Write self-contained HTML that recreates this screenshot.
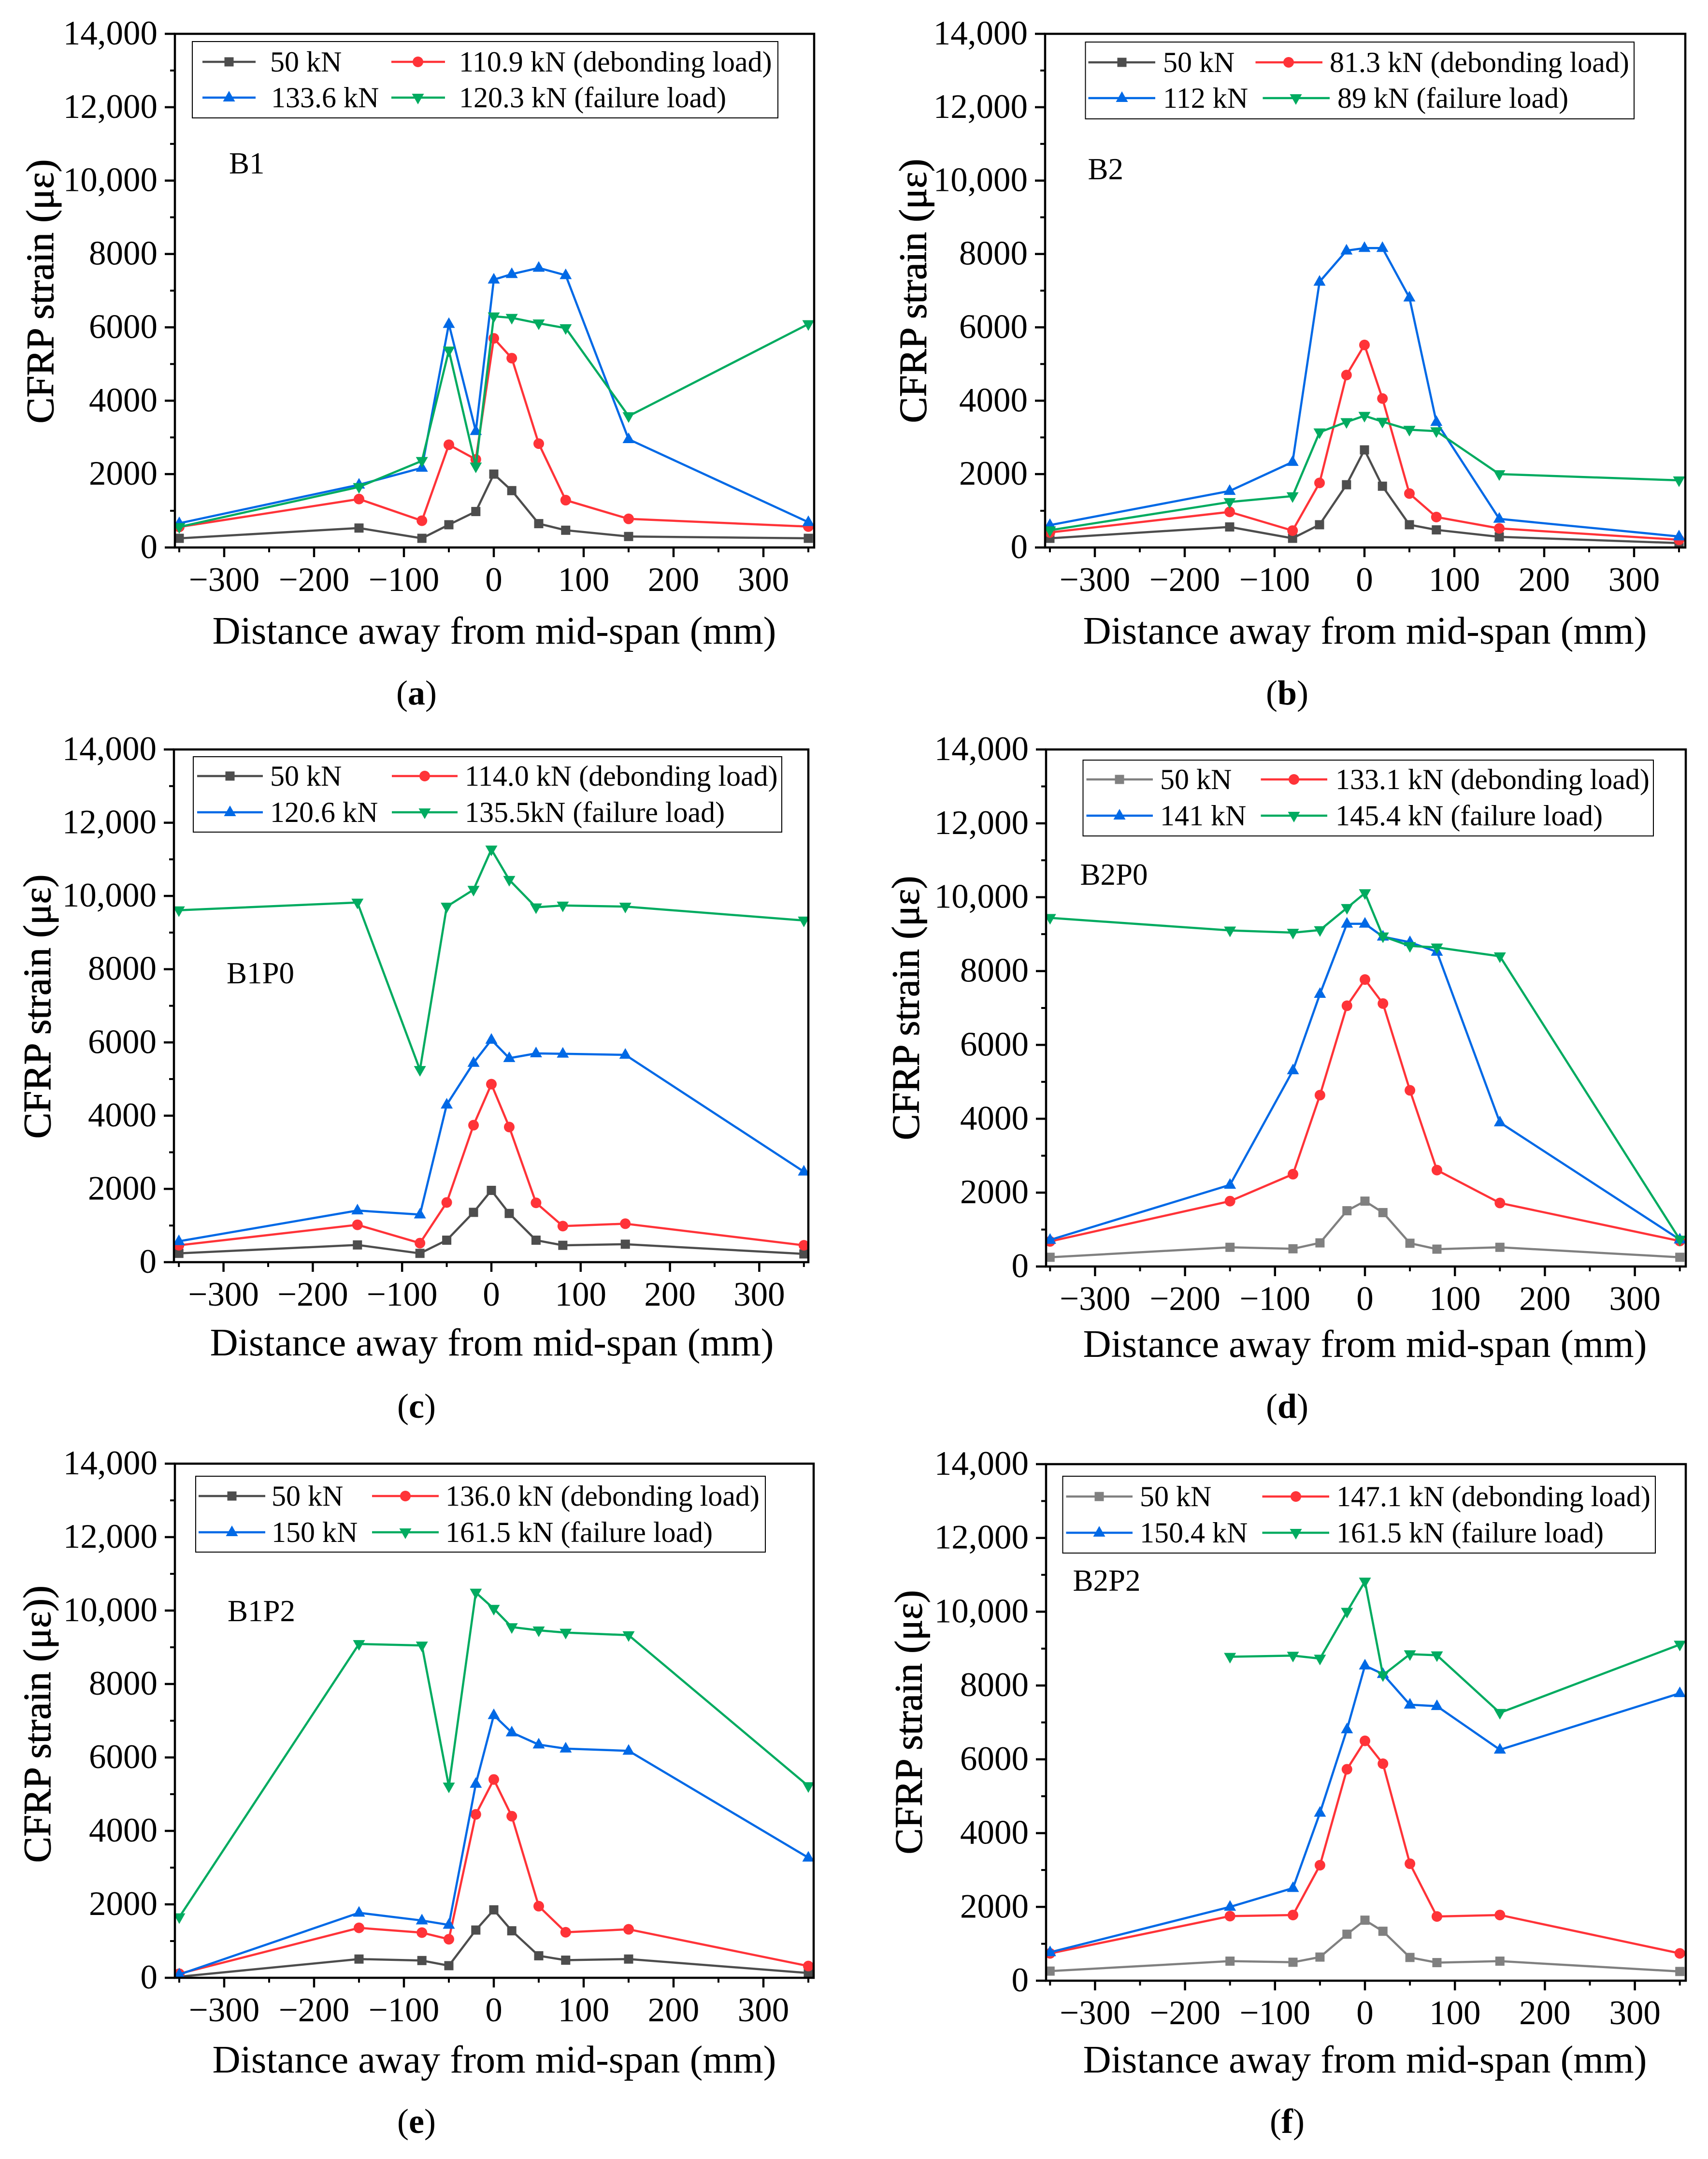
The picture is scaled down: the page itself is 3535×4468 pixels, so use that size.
<!DOCTYPE html>
<html lang="en">
<head>
<meta charset="utf-8">
<title>CFRP strain versus distance from mid-span</title>
<style>
html,body{margin:0;padding:0;background:#fff;}
svg{display:block;font-family:"Liberation Serif","DejaVu Serif",serif;fill:#000;}
.leg{font-size:60px;}
.ttl{font-size:80.5px;}
.ytl{font-size:81px;text-anchor:middle;stroke:#000;stroke-width:1;}
.ann{font-size:63px;}
.sub{font-size:72px;text-anchor:middle;}
.box{fill:#fff;stroke:#000;stroke-width:2;}
.ln{stroke-width:4.5;fill:none;}
.g50{stroke:#4d4d4d;fill:#4d4d4d;}
.l50{stroke:#808080;fill:#808080;}
.red{stroke:#ff3338;fill:#ff3338;}
.blu{stroke:#0069e6;fill:#0069e6;}
.grn{stroke:#00ab60;fill:#00ab60;}
.mk{stroke:none;}
</style>
</head>
<body>
<svg id="figure" xmlns="http://www.w3.org/2000/svg" width="3535" height="4468" viewBox="0 0 3535 4468">
<rect x="0" y="0" width="3535" height="4468" fill="#fff"/>
<defs>
<rect id="mk-square" class="mk" x="-9.5" y="-9.5" width="19" height="19"/>
<circle id="mk-circle" class="mk" r="11"/>
<polygon id="mk-up" class="mk" points="0,-14 12.5,8 -12.5,8"/>
<polygon id="mk-down" class="mk" points="-12.5,-8 12.5,-8 0,14"/>
</defs>

<!-- Panel a -->
<g id="panel-a">
<g class="plot"></g>
<rect class="box" x="398" y="86" width="1212" height="158"/>
<g><line class="ln g50" x1="419" x2="529" y1="128" y2="128"/><use href="#mk-square" class="g50" x="474" y="128"/><text class="leg" x="559" y="148">50 kN</text></g>
<g><line class="ln blu" x1="419" x2="529" y1="202" y2="202"/><use href="#mk-up" class="blu" x="474" y="202"/><text class="leg" x="561" y="222">133.6 kN</text></g>
<g><line class="ln red" x1="810" x2="921" y1="128" y2="128"/><use href="#mk-circle" class="red" x="865" y="128"/><text class="leg" x="950" y="148">110.9 kN (debonding load)</text></g>
<g><line class="ln grn" x1="810" x2="921" y1="202" y2="202"/><use href="#mk-down" class="grn" x="865" y="202"/><text class="leg" x="950" y="222">120.3 kN (failure load)</text></g>
<text class="ann" x="474" y="359">B1</text>
<text class="ttl" x="1023" y="1332" text-anchor="middle">Distance away from mid-span (mm)</text>
<text class="ytl" transform="translate(110,603) rotate(-90)">CFRP strain (με)</text>
<text class="sub" x="862" y="1458">(<tspan font-weight="bold">a</tspan>)</text>
</g>

<!-- Panel b -->
<g id="panel-b">
<g class="plot"></g>
<rect class="box" x="2246.5" y="87" width="1135.5" height="159"/>
<g><line class="ln g50" x1="2252.5" x2="2391" y1="129" y2="129"/><use href="#mk-square" class="g50" x="2322" y="129"/><text class="leg" x="2407" y="149">50 kN</text></g>
<g><line class="ln blu" x1="2252.5" x2="2391" y1="203" y2="203"/><use href="#mk-up" class="blu" x="2322" y="203"/><text class="leg" x="2407" y="223">112 kN</text></g>
<g><line class="ln red" x1="2598.5" x2="2737" y1="129" y2="129"/><use href="#mk-circle" class="red" x="2667" y="129"/><text class="leg" x="2752" y="149">81.3 kN (debonding load)</text></g>
<g><line class="ln grn" x1="2613.5" x2="2752" y1="203" y2="203"/><use href="#mk-down" class="grn" x="2682" y="203"/><text class="leg" x="2768" y="223">89 kN (failure load)</text></g>
<text class="ann" x="2251.5" y="371">B2</text>
<text class="ttl" x="2825" y="1332" text-anchor="middle">Distance away from mid-span (mm)</text>
<text class="ytl" transform="translate(1916.5,602) rotate(-90)">CFRP strain (με)</text>
<text class="sub" x="2664" y="1458">(<tspan font-weight="bold">b</tspan>)</text>
</g>

<!-- Panel c -->
<g id="panel-c">
<g class="plot"></g>
<rect class="box" x="400" y="1566" width="1218" height="156"/>
<g><line class="ln g50" x1="408" x2="544" y1="1606" y2="1606"/><use href="#mk-square" class="g50" x="476" y="1606"/><text class="leg" x="559" y="1626">50 kN</text></g>
<g><line class="ln blu" x1="408" x2="544" y1="1681" y2="1681"/><use href="#mk-up" class="blu" x="476" y="1681"/><text class="leg" x="559" y="1701">120.6 kN</text></g>
<g><line class="ln red" x1="811" x2="947" y1="1606" y2="1606"/><use href="#mk-circle" class="red" x="879" y="1606"/><text class="leg" x="962" y="1626">114.0 kN (debonding load)</text></g>
<g><line class="ln grn" x1="811" x2="947" y1="1681" y2="1681"/><use href="#mk-down" class="grn" x="879" y="1681"/><text class="leg" x="962" y="1701">135.5kN (failure load)</text></g>
<text class="ann" x="469" y="2035">B1P0</text>
<text class="ttl" x="1018" y="2805" text-anchor="middle">Distance away from mid-span (mm)</text>
<text class="ytl" transform="translate(104,2083) rotate(-90)">CFRP strain (με)</text>
<text class="sub" x="862" y="2934">(<tspan font-weight="bold">c</tspan>)</text>
</g>

<!-- Panel d -->
<g id="panel-d">
<g class="plot"></g>
<rect class="box" x="2241.5" y="1573" width="1180.5" height="157"/>
<g><line class="ln l50" x1="2248.5" x2="2386" y1="1613" y2="1613"/><use href="#mk-square" class="l50" x="2317" y="1613"/><text class="leg" x="2401" y="1633">50 kN</text></g>
<g><line class="ln blu" x1="2248.5" x2="2386" y1="1688" y2="1688"/><use href="#mk-up" class="blu" x="2317" y="1688"/><text class="leg" x="2401" y="1708">141 kN</text></g>
<g><line class="ln red" x1="2609.5" x2="2747" y1="1613" y2="1613"/><use href="#mk-circle" class="red" x="2678" y="1613"/><text class="leg" x="2764" y="1633">133.1 kN (debonding load)</text></g>
<g><line class="ln grn" x1="2609.5" x2="2747" y1="1688" y2="1688"/><use href="#mk-down" class="grn" x="2678" y="1688"/><text class="leg" x="2764" y="1708">145.4 kN (failure load)</text></g>
<text class="ann" x="2235.5" y="1831">B2P0</text>
<text class="ttl" x="2825" y="2808" text-anchor="middle">Distance away from mid-span (mm)</text>
<text class="ytl" transform="translate(1901.5,2086) rotate(-90)">CFRP strain (με)</text>
<text class="sub" x="2664" y="2934">(<tspan font-weight="bold">d</tspan>)</text>
</g>

<!-- Panel e -->
<g id="panel-e">
<g class="plot"></g>
<rect class="box" x="405" y="3055" width="1179" height="157"/>
<g><line class="ln g50" x1="411" x2="549" y1="3096" y2="3096"/><use href="#mk-square" class="g50" x="480" y="3096"/><text class="leg" x="562" y="3116">50 kN</text></g>
<g><line class="ln blu" x1="411" x2="549" y1="3171" y2="3171"/><use href="#mk-up" class="blu" x="480" y="3171"/><text class="leg" x="562" y="3191">150 kN</text></g>
<g><line class="ln red" x1="770" x2="908" y1="3096" y2="3096"/><use href="#mk-circle" class="red" x="839" y="3096"/><text class="leg" x="922" y="3116">136.0 kN (debonding load)</text></g>
<g><line class="ln grn" x1="770" x2="908" y1="3171" y2="3171"/><use href="#mk-down" class="grn" x="839" y="3171"/><text class="leg" x="922" y="3191">161.5 kN (failure load)</text></g>
<text class="ann" x="471" y="3355">B1P2</text>
<text class="ttl" x="1023" y="4289" text-anchor="middle">Distance away from mid-span (mm)</text>
<text class="ytl" transform="translate(104,3568) rotate(-90)">CFRP strain (με))</text>
<text class="sub" x="862" y="4414">(<tspan font-weight="bold">e</tspan>)</text>
</g>

<!-- Panel f -->
<g id="panel-f">
<g class="plot"></g>
<rect class="box" x="2199.5" y="3055" width="1226.5" height="159"/>
<g><line class="ln l50" x1="2206.5" x2="2344" y1="3097" y2="3097"/><use href="#mk-square" class="l50" x="2275" y="3097"/><text class="leg" x="2359" y="3117">50 kN</text></g>
<g><line class="ln blu" x1="2206.5" x2="2344" y1="3172" y2="3172"/><use href="#mk-up" class="blu" x="2275" y="3172"/><text class="leg" x="2359" y="3192">150.4 kN</text></g>
<g><line class="ln red" x1="2612.5" x2="2751" y1="3097" y2="3097"/><use href="#mk-circle" class="red" x="2682" y="3097"/><text class="leg" x="2766" y="3117">147.1 kN (debonding load)</text></g>
<g><line class="ln grn" x1="2612.5" x2="2751" y1="3172" y2="3172"/><use href="#mk-down" class="grn" x="2682" y="3172"/><text class="leg" x="2766" y="3192">161.5 kN (failure load)</text></g>
<text class="ann" x="2220.5" y="3292">B2P2</text>
<text class="ttl" x="2825" y="4289" text-anchor="middle">Distance away from mid-span (mm)</text>
<text class="ytl" transform="translate(1907.5,3564) rotate(-90)">CFRP strain (με)</text>
<text class="sub" x="2664" y="4414">(<tspan font-weight="bold">f</tspan>)</text>
</g>
</svg>

<script>
// Shared axes
const distances = [-350, -150, -80, -50, -20, 0, 20, 50, 80, 150, 350];
const xMajorTicks = [-300, -200, -100, 0, 100, 200, 300];
const xMajorLabels = ['\u2212300', '\u2212200', '\u2212100', '0', '100', '200', '300'];
const xMinorTicks = [-350, -250, -150, -50, 50, 150, 250, 350];
const yMajorTicks = [0, 2000, 4000, 6000, 8000, 10000, 12000, 14000];
const yMajorLabels = ['0', '2000', '4000', '6000', '8000', '10,000', '12,000', '14,000'];
const yMinorTicks = [1000, 3000, 5000, 7000, 9000, 11000, 13000];
const yMax = 14000;

// Panel a (B1)
const b1Load50 = [250, 530, 250, 620, 980, 2000, 1550, 650, 470, 300, 250];
const b1Debonding = [560, 1320, 730, 2800, 2400, 5700, 5160, 2830, 1290, 780, 570];
const b1Peak = [660, 1710, 2170, 6090, 3170, 7300, 7450, 7620, 7420, 2950, 690];
const b1Failure = [560, 1650, 2360, 5370, 2210, 6300, 6260, 6110, 5980, 3580, 6090];

// Panel b (B2)
const b2Load50 = [250, 560, 250, 620, 1710, 2660, 1670, 620, 480, 290, 120];
const b2Debonding = [410, 970, 460, 1760, 4700, 5520, 4060, 1470, 830, 520, 210];
const b2Peak = [610, 1540, 2330, 7240, 8090, 8160, 8160, 6810, 3420, 780, 300];
const b2Failure = [470, 1240, 1400, 3140, 3420, 3590, 3430, 3210, 3170, 2000, 1830];

// Panel c (B1P0)
const b1p0Load50 = [240, 470, 240, 600, 1360, 1960, 1330, 600, 460, 490, 225];
const b1p0Debonding = [460, 1020, 520, 1630, 3740, 4860, 3690, 1620, 985, 1050, 460];
const b1p0Peak = [570, 1410, 1300, 4300, 5440, 6070, 5570, 5700, 5690, 5660, 2470];
const b1p0Failure = [9610, 9820, 5250, 9710, 10170, 11270, 10440, 9690, 9740, 9710, 9330];

// Panel d (B2P0)
const b2p0Load50 = [250, 520, 480, 640, 1510, 1770, 1460, 630, 470, 520, 250];
const b2p0Debonding = [680, 1770, 2500, 4640, 7060, 7770, 7120, 4770, 2610, 1720, 690];
const b2p0Peak = [720, 2210, 5310, 7380, 9280, 9280, 8930, 8780, 8520, 3900, 730];
const b2p0Failure = [9440, 9100, 9040, 9110, 9710, 10110, 8940, 8680, 8640, 8400, 730];

// Panel e (B1P2)
const b1p2Load50 = [30, 510, 470, 330, 1300, 1850, 1280, 600, 480, 510, 130];
const b1p2Debonding = [110, 1360, 1230, 1050, 4450, 5400, 4400, 1950, 1240, 1320, 320];
const b1p2Peak = [90, 1770, 1560, 1440, 5280, 7150, 6680, 6350, 6240, 6180, 3270];
const b1p2Failure = [1650, 9090, 9050, 5210, 10490, 10050, 9550, 9460, 9400, 9330, 5220];

// Panel f (B2P2)
const b2p2Load50 = [260, 530, 500, 640, 1260, 1640, 1340, 630, 490, 530, 250];
const b2p2Debonding = [740, 1750, 1780, 3130, 5730, 6500, 5880, 3170, 1740, 1780, 740];
const b2p2Peak = [770, 2000, 2510, 4550, 6810, 8540, 8310, 7480, 7440, 6260, 7790];
const b2p2Failure = [null, 8780, 8810, 8730, 10000, 10820, 8280, 8850, 8820, 7260, 9110];

const SVG_NS = 'http://www.w3.org/2000/svg';

function node(tag, parent) {
  const el = document.createElementNS(SVG_NS, tag);
  parent.appendChild(el);
  return el;
}

function drawMarker(parent, kind, cx, cy) {
  let m;
  if (kind === 'square') {
    m = node('rect', parent);
    m.setAttribute('x', cx - 9.5);
    m.setAttribute('y', cy - 9.5);
    m.setAttribute('width', 19);
    m.setAttribute('height', 19);
  } else if (kind === 'circle') {
    m = node('circle', parent);
    m.setAttribute('cx', cx);
    m.setAttribute('cy', cy);
    m.setAttribute('r', 11);
  } else if (kind === 'up') {
    m = node('polygon', parent);
    m.setAttribute('points', cx + ',' + (cy - 14) + ' ' + (cx + 12.5) + ',' + (cy + 8) + ' ' + (cx - 12.5) + ',' + (cy + 8));
  } else {
    m = node('polygon', parent);
    m.setAttribute('points', (cx - 12.5) + ',' + (cy - 8) + ' ' + (cx + 12.5) + ',' + (cy - 8) + ' ' + cx + ',' + (cy + 14));
  }
  m.setAttribute('class', 'mk');
  
  
}

function drawSeries(parent, clipId, values, cls, kind, xs, ys) {
  const group = node('g', parent);
  group.setAttribute('class', cls);
  group.setAttribute('clip-path', 'url(#' + clipId + ')');
  
  
  const pts = [];
  distances.forEach(function (d, i) {
    if (values[i] !== null) pts.push([xs(d), ys(values[i])]);
  });
  const line = node('polyline', group);
  line.setAttribute('fill', 'none');
  line.setAttribute('stroke-width', '4.5');
  line.setAttribute('stroke-linejoin', 'round');
  line.setAttribute('points', pts.map(function (p) { return p.join(','); }).join(' '));
  
  
  pts.forEach(function (p) { drawMarker(group, kind, p[0], p[1]); });
}

function tick(parent, x1, y1, x2, y2, width) {
  const t = node('line', parent);
  t.setAttribute('x1', x1);
  t.setAttribute('y1', y1);
  t.setAttribute('x2', x2);
  t.setAttribute('y2', y2);
  t.setAttribute('stroke', '#000');
  t.setAttribute('stroke-width', width);
  
  
}

function label(parent, x, y, anchor, str) {
  const t = node('text', parent);
  t.setAttribute('x', x);
  t.setAttribute('y', y);
  t.setAttribute('text-anchor', anchor);
  t.setAttribute('font-size', '71');
  t.textContent = str;
  
  
}

function drawPanel(id, left, right, top, bottom, zero, k, load50Class, load50, debonding, peak, failure) {
  const plot = document.querySelector('#panel-' + id + ' .plot');
  const xs = function (v) { return zero + v * k; };
  const ys = function (v) { return bottom - (v / yMax) * (bottom - top); };
  const clipId = 'clip-' + id;

  const clip = node('clipPath', plot);
  clip.setAttribute('id', clipId);
  const cr = node('rect', clip);
  cr.setAttribute('x', left);
  cr.setAttribute('y', top);
  cr.setAttribute('width', right - left);
  cr.setAttribute('height', bottom - top);

  drawSeries(plot, clipId, load50, load50Class, 'square', xs, ys);
  drawSeries(plot, clipId, debonding, 'red', 'circle', xs, ys);
  drawSeries(plot, clipId, peak, 'blu', 'up', xs, ys);
  drawSeries(plot, clipId, failure, 'grn', 'down', xs, ys);

  const frame = node('rect', plot);
  frame.setAttribute('x', left);
  frame.setAttribute('y', top);
  frame.setAttribute('width', right - left);
  frame.setAttribute('height', bottom - top);
  frame.setAttribute('fill', 'none');
  frame.setAttribute('stroke', '#000');
  frame.setAttribute('stroke-width', '4.5');
  
  

  yMajorTicks.forEach(function (v, i) {
    tick(plot, left - 21, ys(v), left, ys(v), 4.5);
    label(plot, left - 36, ys(v) + 22, 'end', yMajorLabels[i]);
  });
  yMinorTicks.forEach(function (v) { tick(plot, left - 10, ys(v), left, ys(v), 4); });
  xMajorTicks.forEach(function (v, i) {
    tick(plot, xs(v), bottom, xs(v), bottom + 20, 4.5);
    label(plot, xs(v), bottom + 90, 'middle', xMajorLabels[i]);
  });
  xMinorTicks.forEach(function (v) { tick(plot, xs(v), bottom, xs(v), bottom + 10, 4); });
}

drawPanel('a', 362, 1685, 70, 1133, 1022, 1.86, 'g50', b1Load50, b1Debonding, b1Peak, b1Failure);
drawPanel('b', 2163, 3488, 70, 1133, 2824, 1.86, 'g50', b2Load50, b2Debonding, b2Peak, b2Failure);
drawPanel('c', 360, 1673, 1551, 2612, 1017, 1.848, 'g50', b1p0Load50, b1p0Debonding, b1p0Peak, b1p0Failure);
drawPanel('d', 2165, 3489, 1551, 2621, 2825, 1.862, 'l50', b2p0Load50, b2p0Debonding, b2p0Peak, b2p0Failure);
drawPanel('e', 362, 1684, 3029, 4093, 1022, 1.86, 'g50', b1p2Load50, b1p2Debonding, b1p2Peak, b1p2Failure);
drawPanel('f', 2165, 3489, 3030, 4099, 2825, 1.862, 'l50', b2p2Load50, b2p2Debonding, b2p2Peak, b2p2Failure);
</script>
</body>
</html>
